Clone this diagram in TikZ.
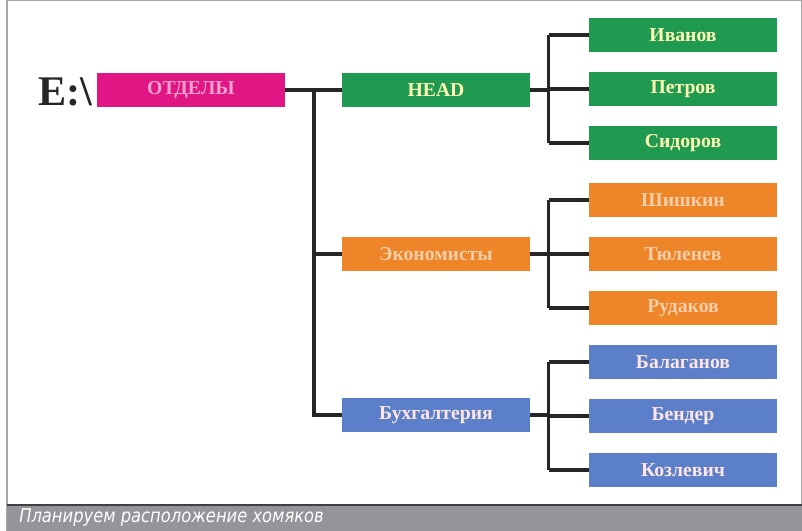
\documentclass[tikz,border=0pt]{standalone}
\usepackage{fontspec}
\setmainfont{Liberation Serif}
\newfontfamily\capfont{DejaVu Sans}

\definecolor{rootpink}{HTML}{DF1683}
\definecolor{headgreen}{HTML}{1F9A50}
\definecolor{econorange}{HTML}{EE8528}
\definecolor{buhblue}{HTML}{5B80C9}
\definecolor{capgray}{HTML}{94949A}

\tikzset{
  box/.style={minimum width=4.675cm, minimum height=0.85cm, inner sep=0pt,
    font=\fontsize{14}{14}\selectfont\bfseries},
  link/.style={line width=2.2pt, black!85}
}

\begin{document}
\begin{tikzpicture}[x=0.025cm,y=-0.025cm]
        \useasboundingbox (0,0) rectangle (802,531);
        % frame and caption bar
        \draw[gray!70,line width=0.8pt] (7,0.5) rectangle (801.5,530.5);
        \fill[capgray] (7,505) rectangle (801.5,531);
        \draw[black!75,line width=0.8pt] (7,505) -- (801.5,505);
        \node[anchor=west,text=white,font=\capfont\itshape\fontsize{13.5}{13.5}\selectfont,
          transform shape,xscale=0.86] (cap) at (15,518) {Планируем расположение хомяков};

        % root
        \node[anchor=east,font=\fontsize{30}{30}\selectfont\bfseries,text=black!85] (drive) at (97,92) {E:\textbackslash};
        \node[box,fill=rootpink,text=rootpink!40] (root) at (191,90) {ОТДЕЛЫ};

        % departments
        \node[box,fill=headgreen,text=yellow!30] (head) at (436,90) {HEAD};
        \node[box,fill=econorange,text=econorange!40] (econ) at (436,254) {Экономисты};
        \node[box,fill=buhblue,text=pink!40] (buh) at (436,415) {Бухгалтерия};

        % staff
        \node[box,fill=headgreen,text=yellow!30] (h1) at (683,35) {Иванов};
        \node[box,fill=headgreen,text=yellow!30] (h2) at (683,89) {Петров};
        \node[box,fill=headgreen,text=yellow!30] (h3) at (683,143) {Сидоров};
        \node[box,fill=econorange,text=econorange!40] (e1) at (683,200) {Шишкин};
        \node[box,fill=econorange,text=econorange!40] (e2) at (683,254) {Тюленев};
        \node[box,fill=econorange,text=econorange!40] (e3) at (683,308) {Рудаков};
        \node[box,fill=buhblue,text=pink!40] (b1) at (683,362) {Балаганов};
        \node[box,fill=buhblue,text=pink!40] (b2) at (683,416) {Бендер};
        \node[box,fill=buhblue,text=pink!40] (b3) at (683,470) {Козлевич};

        % connectors
        \coordinate (trunk) at (314,90);
        \draw[link] (root.east) -- (head.west);
        \draw[link] (trunk) |- (buh.west);
        \draw[link] (trunk |- econ.west) -- (econ.west);
        \foreach \d/\g in {head/h, econ/e, buh/b} {
          \draw[link] (\d.east) -- ++(19,0) coordinate (\d-fork);
          \draw[link] (\d-fork |- \g1.west) -- (\d-fork |- \g3.west);
          \foreach \i in {1,2,3}
            \draw[link] (\d-fork |- \g\i.west) -- (\g\i.west);
        }
      \end{tikzpicture}
\end{document}
